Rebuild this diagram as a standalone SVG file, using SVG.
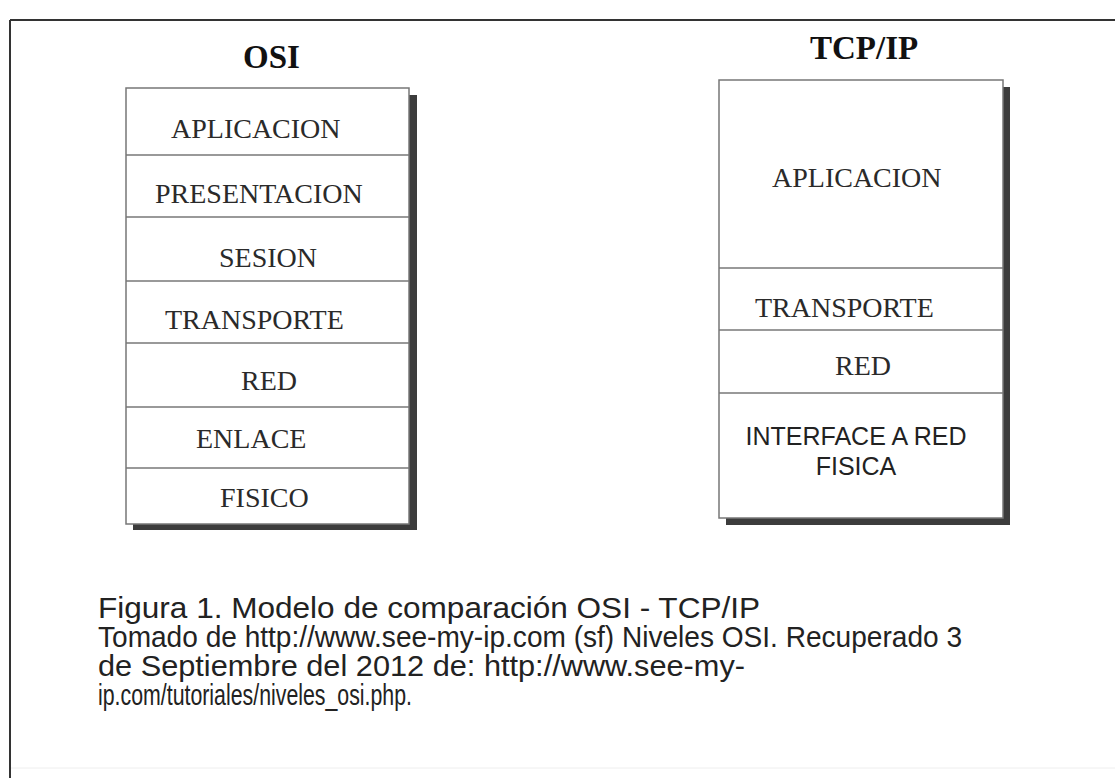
<svg xmlns="http://www.w3.org/2000/svg" width="1115" height="778" viewBox="0 0 1115 778">
<style>
.frame{stroke:#333;stroke-width:2;fill:none}
.box{fill:#fff;stroke:#777;stroke-width:1.5}
.shadow{fill:#3c3c3c}
.div{stroke:#777;stroke-width:1.5}
.title{font-family:"Liberation Serif","Times New Roman",serif;font-weight:bold;font-size:33px;fill:#111}
.lbl{font-family:"Liberation Serif","Times New Roman",serif;font-size:28px;fill:#2a2a2a}
.sans{font-family:"Liberation Sans",Arial,sans-serif;font-size:25px;fill:#222}
.cap{font-family:"Liberation Sans",Arial,sans-serif;font-size:29px;fill:#222}
</style>
<rect width="1115" height="778" fill="#fff"/>
<g id="frame">
<line class="frame" x1="10" y1="20" x2="1115" y2="20"/>
<line class="frame" x1="10" y1="20" x2="10" y2="778"/>
<line x1="11" y1="768" x2="1115" y2="768" stroke="#eee" stroke-width="1"/>
</g>
<g id="osi">
<text class="title" x="243" y="68">OSI</text>
<rect class="shadow" x="133" y="95" width="284" height="435"/>
<rect class="box" x="126" y="88" width="283" height="436"/>
<line class="div" x1="126" y1="155" x2="409" y2="155"/>
<line class="div" x1="126" y1="217" x2="409" y2="217"/>
<line class="div" x1="126" y1="281" x2="409" y2="281"/>
<line class="div" x1="126" y1="343" x2="409" y2="343"/>
<line class="div" x1="126" y1="407" x2="409" y2="407"/>
<line class="div" x1="126" y1="468" x2="409" y2="468"/>
<text class="lbl" x="171" y="138">APLICACION</text>
<text class="lbl" x="155" y="203">PRESENTACION</text>
<text class="lbl" x="219" y="267">SESION</text>
<text class="lbl" x="165" y="329">TRANSPORTE</text>
<text class="lbl" x="241" y="390">RED</text>
<text class="lbl" x="196" y="448">ENLACE</text>
<text class="lbl" x="220" y="507">FISICO</text>
</g>
<g id="tcpip">
<text class="title" x="810" y="59">TCP/IP</text>
<rect class="shadow" x="726" y="87" width="284" height="438"/>
<rect class="box" x="719" y="80" width="284" height="438"/>
<line class="div" x1="719" y1="268" x2="1003" y2="268"/>
<line class="div" x1="719" y1="330" x2="1003" y2="330"/>
<line class="div" x1="719" y1="393" x2="1003" y2="393"/>
<text class="lbl" x="772" y="187">APLICACION</text>
<text class="lbl" x="755" y="317">TRANSPORTE</text>
<text class="lbl" x="835" y="375">RED</text>
<text class="sans" x="856" y="445" text-anchor="middle">INTERFACE A RED</text>
<text class="sans" x="856" y="475" text-anchor="middle">FISICA</text>
</g>
<g id="caption">
<text class="cap" x="98" y="618" textLength="662" lengthAdjust="spacingAndGlyphs">Figura 1. Modelo de comparación OSI - TCP/IP</text>
<text class="cap" x="98" y="647" textLength="864" lengthAdjust="spacingAndGlyphs">Tomado de http://www.see-my-ip.com (sf) Niveles OSI. Recuperado 3</text>
<text class="cap" x="98" y="676" textLength="647" lengthAdjust="spacingAndGlyphs">de Septiembre del 2012 de: http://www.see-my-</text>
<text class="cap" x="98" y="705" textLength="314" lengthAdjust="spacingAndGlyphs">ip.com/tutoriales/niveles_osi.php.</text>
</g>
<g id="connectors"/>
</svg>
